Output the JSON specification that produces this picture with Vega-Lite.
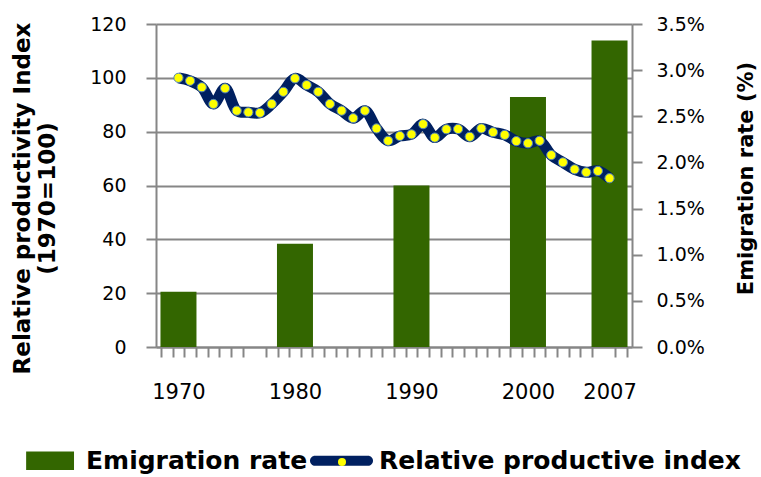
{
  "$schema": "https://vega.github.io/schema/vega-lite/v6.json",
  "width": 476,
  "height": 323,
  "autosize": {"type": "none"},
  "padding": {"left": 156, "top": 24, "right": 129, "bottom": 130},
  "background": "white",
  "config": {"view": {"stroke": null}, "font": "DejaVu Sans"},
  "datasets": {
    "emig": [
      {"year": 1970, "rate": 0.006},
      {"year": 1980, "rate": 0.0112},
      {"year": 1990, "rate": 0.0175},
      {"year": 2000, "rate": 0.0271},
      {"year": 2007, "rate": 0.0332}
    ],
    "prod": [
      {"year": 1970, "index": 100.0},
      {"year": 1971, "index": 98.9},
      {"year": 1972, "index": 96.5},
      {"year": 1973, "index": 90.3},
      {"year": 1974, "index": 96.1},
      {"year": 1975, "index": 87.8},
      {"year": 1976, "index": 87.2},
      {"year": 1977, "index": 87.0},
      {"year": 1978, "index": 90.3},
      {"year": 1979, "index": 94.8},
      {"year": 1980, "index": 99.8},
      {"year": 1981, "index": 97.3},
      {"year": 1982, "index": 94.8},
      {"year": 1983, "index": 90.3},
      {"year": 1984, "index": 87.8},
      {"year": 1985, "index": 85.0},
      {"year": 1986, "index": 87.8},
      {"year": 1987, "index": 81.2},
      {"year": 1988, "index": 76.6},
      {"year": 1989, "index": 78.4},
      {"year": 1990, "index": 79.0},
      {"year": 1991, "index": 82.8},
      {"year": 1992, "index": 77.8},
      {"year": 1993, "index": 80.9},
      {"year": 1994, "index": 81.0},
      {"year": 1995, "index": 78.1},
      {"year": 1996, "index": 81.2},
      {"year": 1997, "index": 79.8},
      {"year": 1998, "index": 78.8},
      {"year": 1999, "index": 76.5},
      {"year": 2000, "index": 75.7},
      {"year": 2001, "index": 76.6},
      {"year": 2002, "index": 71.3},
      {"year": 2003, "index": 68.6},
      {"year": 2004, "index": 66.0},
      {"year": 2005, "index": 64.9},
      {"year": 2006, "index": 65.4},
      {"year": 2007, "index": 62.7}
    ]
  },
  "layer": [
    {
      "data": {"name": "prod"},
      "mark": {"type": "line", "strokeWidth": 0, "opacity": 0},
      "encoding": {
        "x": {
          "field": "year", "type": "quantitative",
          "scale": {"domain": [1968.5, 2008.5], "nice": false, "zero": false},
          "axis": {
            "orient": "bottom",
            "values": [1970, 1980, 1990, 2000, 2007], "format": "d",
            "ticks": false, "tickSize": 0, "domain": false, "grid": false,
            "labelPadding": 34, "labelFontSize": 21, "labelColor": "black", "labelFont": "DejaVu Sans",
            "title": null
          }
        },
        "y": {
          "field": "index", "type": "quantitative",
          "scale": {"domain": [0, 120], "nice": false},
          "axis": {
            "orient": "left",
            "values": [0, 20, 40, 60, 80, 100, 120],
            "grid": true, "gridColor": "#868686", "gridWidth": 2,
            "tickSize": 10, "tickColor": "#868686", "tickWidth": 2,
            "domainColor": "#868686", "domainWidth": 2,
            "labelFontSize": 19, "labelPadding": 20, "labelColor": "black", "labelFont": "DejaVu Sans",
            "title": ["Relative productivity Index", "(1970=100)"],
            "titleFont": "DejaVu Sans", "titleFontWeight": "bold", "titleFontSize": 23,
            "titleColor": "black", "titleAngle": 270, "titleLineHeight": 25,
            "titleX": -134, "titleY": 174, "titleAlign": "center", "titleBaseline": "middle"
          }
        }
      }
    },
    {
      "data": {"name": "emig"},
      "mark": {"type": "bar", "size": 36},
      "encoding": {
        "x": {
          "field": "year", "type": "quantitative",
          "scale": {"domain": [1968.5, 2008.5], "nice": false, "zero": false},
          "axis": {
            "orient": "bottom",
            "values": [1968.5,1969.5,1970.5,1971.5,1972.5,1973.5,1974.5,1975.5,1977.5,1978.5,1979.5,1980.5,1981.5,1982.5,1983.5,1984.5,1985.5,1986.5,1987.5,1988.5,1989.5,1990.5,1991.5,1992.5,1993.5,1994.5,1995.5,1996.5,1997.5,1998.5,1999.5,2000.5,2001.5,2002.5,2003.5,2004.5,2005.5,2007.5,2008.5],
            "labels": false, "ticks": true, "tickSize": 10, "tickColor": "#868686", "tickWidth": 2,
            "domain": true, "domainColor": "#868686", "domainWidth": 2, "grid": false, "title": null
          }
        },
        "y": {
          "field": "rate", "type": "quantitative",
          "scale": {"domain": [0, 0.035], "nice": false},
          "axis": {
            "orient": "right",
            "values": [0, 0.005, 0.01, 0.015, 0.02, 0.025, 0.03, 0.035],
            "format": ".1%", "grid": false,
            "tickSize": 10, "tickColor": "#868686", "tickWidth": 2,
            "domainColor": "#868686", "domainWidth": 2,
            "labelFontSize": 19, "labelPadding": 14, "labelColor": "black", "labelFont": "DejaVu Sans",
            "title": "Emigration rate (%)", "titleFont": "DejaVu Sans", "titleFontWeight": "bold",
            "titleFontSize": 21, "titleColor": "black", "titleAngle": 270,
            "titleX": 114, "titleY": 154, "titleAlign": "center", "titleBaseline": "middle"
          }
        },
        "color": {
          "datum": "Emigration rate",
          "scale": {"domain": ["Emigration rate", "Relative productive index"], "range": ["#336600", "#002060"]},
          "legend": {
            "orient": "none", "direction": "horizontal", "legendX": -139, "legendY": 405,
            "title": null,
            "labelFont": "DejaVu Sans", "labelFontWeight": "bold", "labelFontSize": 25, "labelColor": "black",
            "labelLimit": 600, "symbolSize": 3969, "labelOffset": 6, "columnPadding": 2,
            "encode": {
              "symbols": {
                "update": {
                  "shape": {"signal": "datum.value === 'Emigration rate' ? 'M-0.71,-0.29H0.81V0.29H-0.71Z' : 'M-0.84,-0.16H0.84A0.16,0.16 0 0 1 0.84,0.16H-0.84A0.16,0.16 0 0 1 -0.84,-0.16Z'"},
                  "fill": {"signal": "datum.value === 'Emigration rate' ? '#336600' : '#002060'"},
                  "strokeWidth": {"value": 0},
                  "opacity": {"value": 1}
                }
              }
            }
          }
        }
      }
    },
    {
      "data": {"name": "prod"},
      "mark": {"type": "line", "strokeWidth": 11, "interpolate": "catmull-rom"},
      "encoding": {
        "x": {"field": "year", "type": "quantitative", "axis": null},
        "y": {"field": "index", "type": "quantitative", "scale": {"domain": [0, 120], "nice": false}, "axis": null},
        "color": {"datum": "Relative productive index"}
      }
    },
    {
      "data": {"name": "prod"},
      "mark": {"type": "circle", "size": 85, "stroke": "#4F81BD", "strokeWidth": 1, "opacity": 1},
      "encoding": {
        "x": {"field": "year", "type": "quantitative", "axis": null},
        "y": {"field": "index", "type": "quantitative", "scale": {"domain": [0, 120], "nice": false}, "axis": null},
        "fill": {
          "datum": "marker",
          "scale": {"domain": ["marker"], "range": ["#FFFF00"]},
          "legend": {
            "orient": "none", "legendX": 181, "legendY": 433,
            "title": null, "labelExpr": "''", "labelOffset": 0,
            "symbolType": "circle", "symbolSize": 64, "symbolStrokeWidth": 0, "symbolOpacity": 1
          }
        }
      }
    }
  ],
  "resolve": {"scale": {"y": "independent"}, "axis": {"x": "independent"}}
}
